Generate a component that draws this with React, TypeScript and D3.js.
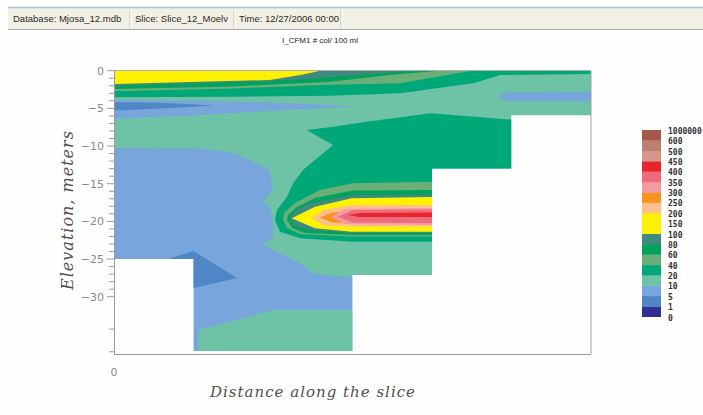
import React from 'react';
import * as d3 from 'd3';

type P = [number, number];

// Legend: class boundaries (bottom to top) and band colours
const legendLabels = ['0', '1', '5', '10', '20', '40', '60', '80', '100', '150', '200', '250', '300', '350', '400', '450', '500', '600', '1000000'];
const bandColors = ['#2e3192', '#4f86c6', '#78a6dc', '#6ec3a6', '#00a878', '#6aaf78', '#00a25c', '#3f8a7e', '#fff200', '#fff200', '#fbc08c', '#f7941e', '#f39aa2', '#ef6a7a', '#e8242c', '#d6988a', '#bc7f70', '#a5574a'];

// Axis ticks
const yMajorTicks = [0, -5, -10, -15, -20, -25, -30];
const yMinorTicks = [-1, -2, -3, -4, -6, -7, -8, -9, -11, -12, -13, -14, -16, -17, -18, -19, -21, -22, -23, -24, -26, -27, -28, -29, -34.3, -37.3];
const xTicks = [0];

// Slice geometry: water cross-section (distance, elevation)
const waterOutline: P[] = [[0, 0], [6, 0], [6, -5.95], [5, -5.95], [5, -13], [4, -13], [4, -27.1], [3, -27.1], [3, -37.2], [1, -37.2], [1, -25], [0, -25]];

// Contour regions (distance, elevation), value class index into bandColors
const upperGreen20: P[] = [[0, 0], [6, 0], [6, -0.44], [4.86, -0.57], [4.52, -1.67], [3.6, -3.0], [2.72, -3.32], [1.5, -3.45], [0, -3.53]];
const upperOlive: P[] = [[0, 0], [4.5, 0], [3.6, -1.67], [2.72, -1.86], [1.5, -2.35], [0, -2.73]];
const upperGreen60: P[] = [[0, 0], [4.1, 0], [3.5, -0.55], [2.72, -1.45], [1.5, -2.1], [0, -2.43]];
const upperDarkTeal: P[] = [[0, 0], [3.72, 0], [3.3, -0.4], [2.72, -0.88], [1.96, -1.4], [0, -1.99]];
const upperYellow: P[] = [[0, 0], [2.59, 0], [2.5, -0.25], [2.34, -0.57], [1.96, -1.23], [0, -1.77]];
const upperBlue: P[] = [[0, -3.89], [1.08, -4.0], [2.34, -4.35], [3.05, -4.78], [2.34, -5.12], [1.08, -5.88], [0, -6.4]];
const upperBlueCore: P[] = [[0, -4.19], [0.58, -4.25], [1.27, -4.62], [0.58, -5.02], [0, -5.31]];
const rightBlueLens: P[] = [[6, -2.83], [4.92, -2.89], [4.82, -3.42], [4.92, -4.02], [6, -4.02]];
const lowerBlue: P[] = [[0, -10.26], [1.08, -10.33], [1.46, -10.8], [1.71, -11.85], [1.96, -13.18], [2.0, -15.84], [1.92, -16.77], [1.87, -17.43], [1.96, -18.09], [2.0, -20.22], [2.0, -22.08], [1.87, -23.14], [2.05, -24.07], [2.34, -25.53], [2.5, -26.86], [2.75, -27.25], [3.0, -27.39], [3.0, -37.21], [1.0, -37.21], [1.0, -25], [0, -25]];
const lowerTeal: P[] = [[1.06, -34.42], [2.0, -31.77], [3.0, -31.77], [3.0, -37.21], [1.06, -37.21]];
const lowerBlueCore: P[] = [[0.68, -25], [1.0, -23.93], [1.55, -27.52], [1.0, -28.85]];
const midGreen20: P[] = [[2.424, -7.87], [2.755, -7.43], [3.179, -6.77], [3.975, -5.66], [5.0, -6.48], [5.0, -13], [4.0, -13], [4.0, -22.7], [3.0, -22.7], [2.34, -22.25], [2.088, -21.37], [2.025, -19.82], [2.05, -18.49], [2.176, -16.73], [2.25, -15.0], [2.377, -13.18], [2.755, -9.86]];
const plumeOlive: P[] = [[4, -14.74], [3, -14.95], [2.59, -15.84], [2.277, -17.56], [2.138, -18.89], [2.126, -19.7], [2.176, -20.88], [2.34, -21.68], [3, -22.01], [4, -22.01]];
const plumeGreen60: P[] = [[4, -15.84], [3, -15.9], [2.53, -16.9], [2.3, -18.09], [2.19, -19.16], [2.176, -19.82], [2.24, -20.88], [2.4, -21.55], [3, -21.81], [4, -21.81]];
const plumeDarkTeal: P[] = [[4, -16.43], [3, -16.5], [2.465, -17.56], [2.277, -18.62], [2.214, -19.55], [2.25, -20.48], [2.43, -21.15], [3, -21.55], [4, -21.55]];
const plumeYellow: P[] = [[4, -16.77], [2.99, -16.94], [2.528, -18.05], [2.235, -19.59], [2.528, -20.92], [2.99, -21.37], [4, -21.37]];
const plumeLightOrange: P[] = [[4, -17.83], [2.99, -17.83], [2.65, -18.45], [2.487, -19.59], [2.65, -20.55], [2.99, -20.71], [4, -20.71]];
const plumeOrange: P[] = [[4, -18.6], [2.906, -18.69], [2.74, -18.82], [2.59, -19.49], [2.74, -20.15], [2.906, -20.22], [4, -20.3]];
const plumeLightPink: P[] = [[4, -18.23], [2.906, -18.36], [2.73, -19.42], [2.906, -20.35], [4, -20.48]];
const plumePinkRed: P[] = [[4, -18.43], [3.0, -18.49], [2.82, -19.38], [3.0, -20.15], [4, -20.22]];
const plumeRed: P[] = [[4, -18.82], [3.09, -18.89], [2.943, -19.16], [3.09, -19.42], [4, -19.42]];

const layers: [P[], number][] = [
  [upperGreen20, 4], [upperOlive, 5], [upperGreen60, 6], [upperDarkTeal, 7], [upperYellow, 8],
  [upperBlue, 2], [upperBlueCore, 1], [rightBlueLens, 2],
  [lowerBlue, 2], [lowerTeal, 3], [lowerBlueCore, 1],
  [midGreen20, 4], [plumeOlive, 5], [plumeGreen60, 6], [plumeDarkTeal, 7], [plumeYellow, 8],
  [plumeLightOrange, 10], [plumeOrange, 11], [plumeLightPink, 12], [plumePinkRed, 13], [plumeRed, 14],
];

export default function App() {
  const W = 703, H = 415;
  const x = d3.scaleLinear().domain([0, 6]).range([114, 591]);
  const y = d3.scaleLinear().domain([-37.6, 0]).range([354, 70.7]);
  const line = d3.line<P>().x(d => x(d[0])).y(d => y(d[1]));
  const poly = (pts: P[]) => (line(pts) || '') + 'Z';
  const ly = d3.scaleLinear().domain([0, 18]).range([316.7, 130]);
  const axisGray = '#9a9a9a';

  return (
    <svg width={W} height={H} style={{ position: 'absolute', left: 0, top: 0, background: '#fff' }}>
      <rect x={0} y={0} width={W} height={H} fill="#fefefe" />
      {/* header */}
      <rect x={8} y={8} width={W - 8} height={21} fill="#f2efe4" />
      <line x1={8} x2={W} y1={7.5} y2={7.5} stroke="#a9c1e3" strokeWidth={1.5} />
      <line x1={8} x2={W} y1={29.5} y2={29.5} stroke="#a8a8a8" strokeWidth={1} />
      {[130, 234, 341].map(sx => (
        <g key={sx}>
          <line x1={sx} x2={sx} y1={10} y2={28} stroke="#c4c0b4" />
          <line x1={sx + 1} x2={sx + 1} y1={10} y2={28} stroke="#ffffff" />
        </g>
      ))}
      <g fontFamily="'Liberation Sans', Arial, sans-serif" fontSize={9.5} fill="#2a2a2a">
        <text x={13} y={22}>Database: Mjosa_12.mdb</text>
        <text x={135} y={22}>Slice: Slice_12_Moelv</text>
        <text x={239} y={22}>Time: 12/27/2006 00:00</text>
      </g>
      {/* title */}
      <text x={320} y={43} textAnchor="middle" fontFamily="'Liberation Sans', Arial, sans-serif" fontSize={8} fill="#222">I_CFM1 # col/ 100 ml</text>

      {/* contour fill */}
      <defs>
        <clipPath id="water">
          <path d={poly(waterOutline)} />
        </clipPath>
      </defs>
      <g clipPath="url(#water)">
        <path d={poly(waterOutline)} fill={bandColors[3]} />
        {layers.map(([pts, c], i) => (
          <path key={i} d={poly(pts)} fill={bandColors[c]} />
        ))}
      </g>

      {/* frame */}
      <line x1={114} x2={591} y1={70.5} y2={70.5} stroke="#b0b0b0" />
      <line x1={591} x2={591} y1={70.5} y2={354} stroke="#a0a0a0" />
      <line x1={114} x2={591} y1={354.5} y2={354.5} stroke={axisGray} />
      <line x1={114.5} x2={114.5} y1={70} y2={355} stroke={axisGray} />

      {/* y ticks */}
      {yMinorTicks.map(t => (
        <line key={'m' + t} x1={109} x2={114} y1={y(t)} y2={y(t)} stroke={axisGray} />
      ))}
      {yMajorTicks.map(t => (
        <g key={'M' + t}>
          <line x1={107} x2={114} y1={y(t)} y2={y(t)} stroke={axisGray} />
          <text x={104} y={y(t)} dy="0.36em" textAnchor="end" fontFamily="'DejaVu Sans', sans-serif" fontSize={11} fill="#8a8a8a">
            {t === 0 ? '0' : '\u2212' + Math.abs(t)}
          </text>
        </g>
      ))}
      {xTicks.map(t => (
        <text key={'x' + t} x={x(t)} y={376} textAnchor="middle" fontFamily="'DejaVu Sans', sans-serif" fontSize={11} fill="#8a8a8a">{t}</text>
      ))}

      {/* axis titles */}
      <text x={313} y={397} textAnchor="middle" fontFamily="'DejaVu Serif', serif" fontStyle="italic" fontSize={15} letterSpacing={1} fill="#505050">Distance along the slice</text>
      <text transform="translate(73,210) rotate(-90)" textAnchor="middle" fontFamily="'DejaVu Serif', serif" fontStyle="italic" fontSize={16} letterSpacing={1} fill="#505050">Elevation, meters</text>

      {/* legend */}
      {bandColors.map((c, i) => (
        <rect key={'lg' + i} x={642} y={ly(i + 1)} width={19} height={ly(i) - ly(i + 1) + 0.3} fill={c} />
      ))}
      {legendLabels.map((l, i) => (
        <text key={'ll' + i} x={668} y={ly(i) + 1} dy="0.35em" fontFamily="'DejaVu Sans Mono', monospace" fontWeight="bold" fontSize={8} fill="#333">{l}</text>
      ))}
    </svg>
  );
}
